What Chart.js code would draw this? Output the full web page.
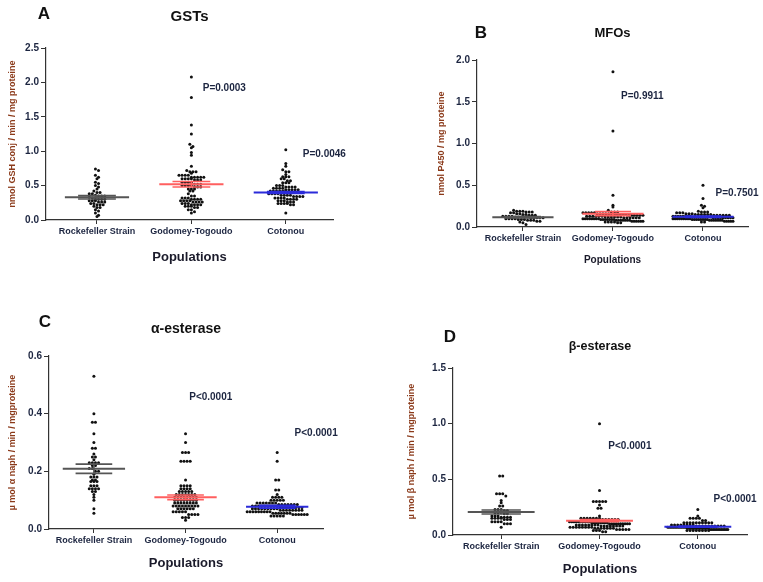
<!DOCTYPE html>
<html lang="en">
<head>
<meta charset="UTF-8" />
<title>Enzyme activities by population</title>
<script src="https://cdn.jsdelivr.net/npm/chart.js"></script>
<style>
  body { margin: 0; background: #fff; }
  #page { position: relative; width: 763px; height: 582px; overflow: hidden; }
  #page canvas { position: absolute; }
</style>
</head>
<body>
<div id="page">
  <canvas id="panelA" width="380" height="290" style="left:0;top:0"></canvas>
  <canvas id="panelB" width="383" height="290" style="left:380px;top:0"></canvas>
  <canvas id="panelC" width="380" height="292" style="left:0;top:290px"></canvas>
  <canvas id="panelD" width="383" height="292" style="left:380px;top:290px"></canvas>
</div>
<script>
// ---- data ----
const populations = ['Rockefeller Strain', 'Godomey-Togoudo', 'Cotonou'];
const groupColors = ['#555555', '#ff5f5f', '#2b2bd9'];

// GSTs (nmol GSH conj / min / mg proteine)
const gstRock = [0.74,0.72,0.65,0.62,0.60,0.55,0.53,0.50,0.48,0.45,0.42,0.40,0.40,0.38,0.38,0.36,0.35,0.35,0.35,0.33,0.32,0.30,0.30,0.30,0.30,0.28,0.28,0.28,0.26,0.26,0.26,0.24,0.24,0.22,0.22,0.22,0.20,0.18,0.18,0.15,0.13,0.10,0.07,0.05];
const gstGodo = [2.08,1.78,1.38,1.25,1.10,1.07,1.05,0.98,0.94,0.78,0.72,0.70,0.70,0.70,0.68,0.65,0.65,0.65,0.65,0.62,0.62,0.62,0.62,0.62,0.60,0.60,0.60,0.60,0.58,0.58,0.58,0.55,0.55,0.55,0.55,0.52,0.52,0.52,0.50,0.50,0.50,0.50,0.48,0.48,0.48,0.45,0.45,0.45,0.42,0.42,0.38,0.35,0.35,0.32,0.32,0.32,0.30,0.30,0.30,0.30,0.28,0.28,0.28,0.28,0.26,0.26,0.26,0.26,0.24,0.24,0.24,0.22,0.22,0.22,0.22,0.20,0.20,0.20,0.18,0.18,0.15,0.15,0.12,0.10];
const gstCoto = [1.02,0.82,0.78,0.73,0.70,0.70,0.66,0.63,0.63,0.63,0.60,0.60,0.57,0.57,0.54,0.54,0.54,0.50,0.50,0.50,0.48,0.48,0.48,0.48,0.46,0.46,0.46,0.46,0.44,0.44,0.44,0.44,0.44,0.42,0.42,0.42,0.42,0.42,0.42,0.40,0.40,0.40,0.40,0.40,0.38,0.38,0.38,0.38,0.36,0.36,0.36,0.36,0.34,0.34,0.34,0.34,0.32,0.32,0.32,0.32,0.30,0.30,0.30,0.30,0.28,0.28,0.28,0.26,0.26,0.26,0.24,0.24,0.24,0.24,0.22,0.22,0.10];
const gstMean = [0.33, 0.52, 0.40];
const gstSem = [0.025, 0.04, 0.015];
const gstP = ['P=0.0003', 'P=0.0046'];

// MFOs (nmol P450 / mg proteine)
const mfoRock = [0.20,0.19,0.19,0.19,0.18,0.18,0.18,0.17,0.17,0.16,0.16,0.15,0.15,0.14,0.14,0.14,0.13,0.13,0.13,0.13,0.12,0.12,0.12,0.12,0.12,0.11,0.11,0.11,0.11,0.11,0.10,0.10,0.10,0.10,0.09,0.09,0.09,0.08,0.08,0.08,0.07,0.07,0.06,0.05,0.03];
const mfoGodo = [1.86,1.15,0.38,0.26,0.24,0.20,0.18,0.18,0.18,0.17,0.17,0.17,0.17,0.17,0.16,0.16,0.16,0.16,0.16,0.16,0.15,0.15,0.15,0.15,0.15,0.14,0.14,0.14,0.14,0.14,0.14,0.13,0.13,0.13,0.13,0.13,0.13,0.12,0.12,0.12,0.12,0.12,0.12,0.11,0.11,0.11,0.11,0.11,0.11,0.10,0.10,0.10,0.10,0.10,0.10,0.10,0.10,0.09,0.09,0.09,0.09,0.09,0.09,0.09,0.08,0.08,0.08,0.08,0.08,0.08,0.08,0.07,0.07,0.07,0.07,0.07,0.07,0.06,0.06,0.06,0.06,0.05,0.05];
const mfoCoto = [0.50,0.34,0.26,0.25,0.23,0.19,0.18,0.18,0.18,0.17,0.17,0.17,0.16,0.16,0.16,0.15,0.15,0.15,0.15,0.15,0.15,0.14,0.14,0.14,0.14,0.14,0.14,0.13,0.13,0.13,0.13,0.13,0.13,0.13,0.13,0.12,0.12,0.12,0.12,0.12,0.12,0.12,0.12,0.11,0.11,0.11,0.11,0.11,0.11,0.11,0.11,0.11,0.10,0.10,0.10,0.10,0.10,0.10,0.10,0.10,0.10,0.09,0.09,0.09,0.09,0.09,0.09,0.09,0.09,0.08,0.08,0.08,0.08,0.08,0.08,0.08,0.07,0.07,0.07,0.07,0.07,0.06,0.06];
const mfoMean = [0.116, 0.16, 0.123];
const mfoSem = [0.008, 0.025, 0.008];
const mfoP = ['P=0.9911', 'P=0.7501'];

// alpha-esterase
const alphaRock = [0.53,0.40,0.37,0.37,0.33,0.30,0.28,0.28,0.26,0.25,0.25,0.24,0.23,0.23,0.23,0.23,0.22,0.22,0.21,0.21,0.20,0.20,0.19,0.18,0.18,0.18,0.17,0.17,0.165,0.165,0.165,0.15,0.15,0.15,0.14,0.14,0.14,0.14,0.13,0.13,0.12,0.11,0.10,0.07,0.055];
const alphaGodo = [0.33,0.30,0.265,0.265,0.265,0.235,0.235,0.235,0.235,0.17,0.15,0.15,0.15,0.15,0.14,0.14,0.14,0.14,0.13,0.13,0.13,0.13,0.13,0.12,0.12,0.12,0.12,0.12,0.12,0.12,0.11,0.11,0.11,0.11,0.11,0.11,0.11,0.11,0.10,0.10,0.10,0.10,0.10,0.10,0.10,0.10,0.09,0.09,0.09,0.09,0.09,0.09,0.09,0.09,0.08,0.08,0.08,0.08,0.08,0.08,0.08,0.08,0.08,0.07,0.07,0.07,0.07,0.07,0.07,0.06,0.06,0.06,0.06,0.06,0.05,0.05,0.05,0.05,0.04,0.04,0.04,0.03];
const alphaCoto = [0.265,0.235,0.17,0.17,0.135,0.135,0.12,0.11,0.11,0.11,0.11,0.10,0.10,0.10,0.10,0.10,0.09,0.09,0.09,0.09,0.09,0.09,0.09,0.085,0.085,0.085,0.085,0.085,0.085,0.085,0.08,0.08,0.08,0.08,0.08,0.08,0.08,0.08,0.08,0.075,0.075,0.075,0.075,0.075,0.075,0.075,0.075,0.07,0.07,0.07,0.07,0.07,0.07,0.07,0.07,0.07,0.065,0.065,0.065,0.065,0.065,0.065,0.065,0.065,0.06,0.06,0.06,0.06,0.06,0.06,0.06,0.06,0.06,0.055,0.055,0.055,0.055,0.055,0.055,0.055,0.05,0.05,0.05,0.05,0.05,0.05,0.045,0.045,0.045,0.045,0.045];
const alphaMean = [0.209, 0.110, 0.077];
const alphaSem = [0.016, 0.008, 0.005];
const alphaP = ['P<0.0001', 'P<0.0001'];

// beta-esterase
const betaRock = [0.53,0.53,0.37,0.37,0.37,0.35,0.31,0.29,0.26,0.26,0.23,0.23,0.23,0.22,0.22,0.20,0.20,0.20,0.19,0.19,0.17,0.17,0.17,0.16,0.16,0.16,0.16,0.15,0.15,0.15,0.15,0.14,0.14,0.14,0.12,0.12,0.12,0.12,0.10,0.10,0.10,0.07];
const betaGodo = [1.00,0.40,0.30,0.30,0.30,0.30,0.30,0.27,0.24,0.24,0.17,0.15,0.15,0.15,0.15,0.15,0.15,0.15,0.14,0.14,0.14,0.14,0.14,0.14,0.12,0.12,0.12,0.12,0.12,0.12,0.12,0.12,0.12,0.12,0.11,0.11,0.11,0.11,0.11,0.11,0.11,0.11,0.10,0.10,0.10,0.10,0.10,0.10,0.10,0.10,0.10,0.10,0.09,0.09,0.09,0.09,0.09,0.09,0.09,0.09,0.08,0.08,0.08,0.08,0.08,0.08,0.08,0.08,0.07,0.07,0.07,0.07,0.07,0.07,0.07,0.07,0.06,0.06,0.06,0.06,0.06,0.06,0.06,0.05,0.05,0.05,0.05,0.05,0.04,0.04,0.04,0.03,0.03];
const betaCoto = [0.23,0.17,0.15,0.15,0.15,0.15,0.13,0.13,0.11,0.11,0.11,0.11,0.11,0.11,0.11,0.11,0.11,0.11,0.09,0.09,0.09,0.09,0.09,0.09,0.09,0.09,0.08,0.08,0.08,0.08,0.08,0.08,0.08,0.08,0.08,0.08,0.07,0.07,0.07,0.07,0.07,0.07,0.07,0.07,0.07,0.07,0.07,0.07,0.06,0.06,0.06,0.06,0.06,0.06,0.06,0.06,0.06,0.06,0.06,0.06,0.06,0.06,0.05,0.05,0.05,0.05,0.05,0.05,0.05,0.05,0.05,0.05,0.05,0.05,0.04,0.04,0.04,0.04,0.04,0.04,0.04,0.04];
const betaMean = [0.207, 0.129, 0.075];
const betaSem = [0.018, 0.010, 0.005];
const betaP = ['P<0.0001', 'P<0.0001'];

const FONT = '"Liberation Sans", Arial, sans-serif';
const TICK_COLOR = '#1c2540';
const AXIS_TITLE_COLOR = '#8b3a1a';

// draws the panel letter and the p-value notes
const panelText = {
  id: 'panelText',
  afterDatasetsDraw(chart, args, opts) {
    const { ctx, scales: { x, y } } = chart;
    ctx.save();
    ctx.textBaseline = 'middle';
    ctx.fillStyle = '#111';
    ctx.textAlign = 'center';
    ctx.font = 'bold 17px ' + FONT;
    ctx.fillText(opts.letter, opts.letterX, opts.letterY);
    ctx.fillStyle = TICK_COLOR;
    ctx.textAlign = 'left';
    ctx.font = 'bold 10px ' + FONT;
    opts.notes.forEach(n => ctx.fillText(n.text, x.getPixelForValue(n.x), y.getPixelForValue(n.y)));
    ctx.restore();
  }
};

// GraphPad-style scatter: dots with close values sit side by side in a row,
// rows that get too wide are squeezed so they overlap
function swarm(chart) {
  const xs = chart.scales.x, ys = chart.scales.y;
  const unit = xs.getPixelForValue(1) - xs.getPixelForValue(0);
  const d = 3.1, maxHalf = 30;
  chart.data.datasets.forEach(ds => {
    if (!ds.isDots) return;
    const rows = new Map();
    ds.data.forEach(p => {
      const r = Math.round(ys.getPixelForValue(p.y) / d);
      if (!rows.has(r)) rows.set(r, []);
      rows.get(r).push(p);
    });
    rows.forEach(list => {
      const n = list.length;
      const sp = n > 1 ? Math.min(d, 2 * maxHalf / (n - 1)) : 0;
      list.forEach((p, k) => { p.x = p.cat + (k - (n - 1) / 2) * sp / unit; });
    });
  });
  chart.update('none');
}

function makePanel(id, cfg) {
  const datasets = [];
  cfg.groups.forEach((vals, i) => {
    const m = cfg.mean[i], s = cfg.sem[i], c = groupColors[i];
    const seg = (pts, w) => datasets.push({
      type: 'line', data: pts, borderColor: c, borderWidth: w,
      pointRadius: 0, order: 0
    });
    seg([{ x: i - 0.34, y: m }, { x: i + 0.34, y: m }], 2);
    seg([{ x: i - 0.2, y: m + s }, { x: i + 0.2, y: m + s }], 1.6);
    seg([{ x: i - 0.2, y: m - s }, { x: i + 0.2, y: m - s }], 1.6);
    seg([{ x: i, y: m - s }, { x: i, y: m + s }], 1.6);
    datasets.push({
      isDots: true,
      data: vals.map(v => ({ x: i, y: v, cat: i })),
      backgroundColor: '#111', borderWidth: 0,
      pointRadius: 1.5, order: 1
    });
  });

  return new Chart(document.getElementById(id), {
    type: 'scatter',
    data: { datasets },
    options: {
      responsive: false,
      animation: false,
      devicePixelRatio: 1,
      layout: { padding: { left: 0, right: cfg.padR, top: 0, bottom: 0 } },
      plugins: {
        legend: { display: false },
        tooltip: { enabled: false },
        title: {
          display: true, text: cfg.title, color: '#111', fullSize: false,
          font: { family: FONT, size: cfg.titleSize, weight: 'bold', lineHeight: 1 },
          padding: { top: cfg.titleTop, bottom: cfg.titleBottom }
        },
        panelText: {
          letter: cfg.letter, letterX: cfg.letterPos[0], letterY: cfg.letterPos[1],
          notes: cfg.notes
        }
      },
      scales: {
        x: {
          type: 'linear', min: cfg.xMin, max: 2.5,
          afterBuildTicks: s => { s.ticks = populations.map((_, i) => ({ value: i })); },
          afterFit: s => { s.height = cfg.xH; },
          ticks: {
            callback: v => populations[v], color: TICK_COLOR, padding: 2,
            autoSkip: false, maxRotation: 0,
            font: { family: FONT, size: 9, weight: 'bold' }
          },
          grid: { drawOnChartArea: false, tickLength: 4, color: '#333' },
          border: { color: '#333', width: 1.2 },
          title: {
            display: true, text: 'Populations', color: '#1a1a2a',
            font: { family: FONT, size: cfg.popSize, weight: 'bold', lineHeight: 1 },
            padding: { top: 0, bottom: cfg.popPad }
          }
        },
        y: {
          min: 0, max: cfg.yMax,
          afterFit: s => { s.width = cfg.yW; },
          ticks: {
            stepSize: cfg.step, callback: v => v.toFixed(1), color: TICK_COLOR, padding: 2,
            font: { family: FONT, size: 10, weight: 'bold' }
          },
          grid: { drawOnChartArea: false, tickLength: 5, color: '#333' },
          border: { color: '#333', width: 1.2 },
          title: {
            display: true, text: cfg.yTitle, color: AXIS_TITLE_COLOR,
            font: { family: FONT, size: 9, weight: 'bold', lineHeight: 1 },
            padding: { top: cfg.yTitlePad, bottom: 0 }
          }
        }
      }
    },
    plugins: [panelText]
  });
}

const charts = [
  makePanel('panelA', {
    groups: [gstRock, gstGodo, gstCoto], mean: gstMean, sem: gstSem,
    title: 'GSTs', titleSize: 15, titleTop: 9.5, titleBottom: 23.5,
    yTitle: 'nmol GSH conj / min / mg proteine', yTitlePad: 8.5,
    yMax: 2.5, step: 0.5, yW: 46, padR: 47, xH: 70, xMin: -0.54,
    popSize: 13, popPad: 26.5, letter: 'A', letterPos: [44, 14],
    notes: [{ text: gstP[0], x: 1.12, y: 1.92 }, { text: gstP[1], x: 2.18, y: 0.96 }]
  }),
  makePanel('panelB', {
    groups: [mfoRock, mfoGodo, mfoCoto], mean: mfoMean, sem: mfoSem,
    title: 'MFOs', titleSize: 13, titleTop: 26.5, titleBottom: 20.5,
    yTitle: 'nmol P450 / mg proteine', yTitlePad: 57.5,
    yMax: 2.0, step: 0.5, yW: 97, padR: 15, xH: 63, xMin: -0.51,
    popSize: 10, popPad: 25, letter: 'B', letterPos: [101, 33],
    notes: [{ text: mfoP[0], x: 1.09, y: 1.57 }, { text: mfoP[1], x: 2.14, y: 0.41 }]
  }),
  makePanel('panelC', {
    groups: [alphaRock, alphaGodo, alphaCoto], mean: alphaMean, sem: alphaSem,
    title: 'α-esterase', titleSize: 14, titleTop: 32, titleBottom: 20,
    yTitle: 'µ mol α naph / min / mgproteine', yTitlePad: 8.5,
    yMax: 0.6, step: 0.2, yW: 49, padR: 57, xH: 53, xMin: -0.49,
    popSize: 13, popPad: 12.5, letter: 'C', letterPos: [45, 32],
    notes: [{ text: alphaP[0], x: 1.04, y: 0.458 }, { text: alphaP[1], x: 2.19, y: 0.333 }]
  }),
  makePanel('panelD', {
    groups: [betaRock, betaGodo, betaCoto], mean: betaMean, sem: betaSem,
    title: 'β-esterase', titleSize: 12.5, titleTop: 50.75, titleBottom: 14.75,
    yTitle: 'µ mol β naph / min / mgproteine', yTitlePad: 27.5,
    yMax: 1.5, step: 0.5, yW: 73, padR: 16, xH: 47, xMin: -0.49,
    popSize: 13, popPad: 6.5, letter: 'D', letterPos: [70, 47],
    notes: [{ text: betaP[0], x: 1.09, y: 0.80 }, { text: betaP[1], x: 2.16, y: 0.32 }]
  })
];
charts.forEach(swarm);
</script>
</body>
</html>
